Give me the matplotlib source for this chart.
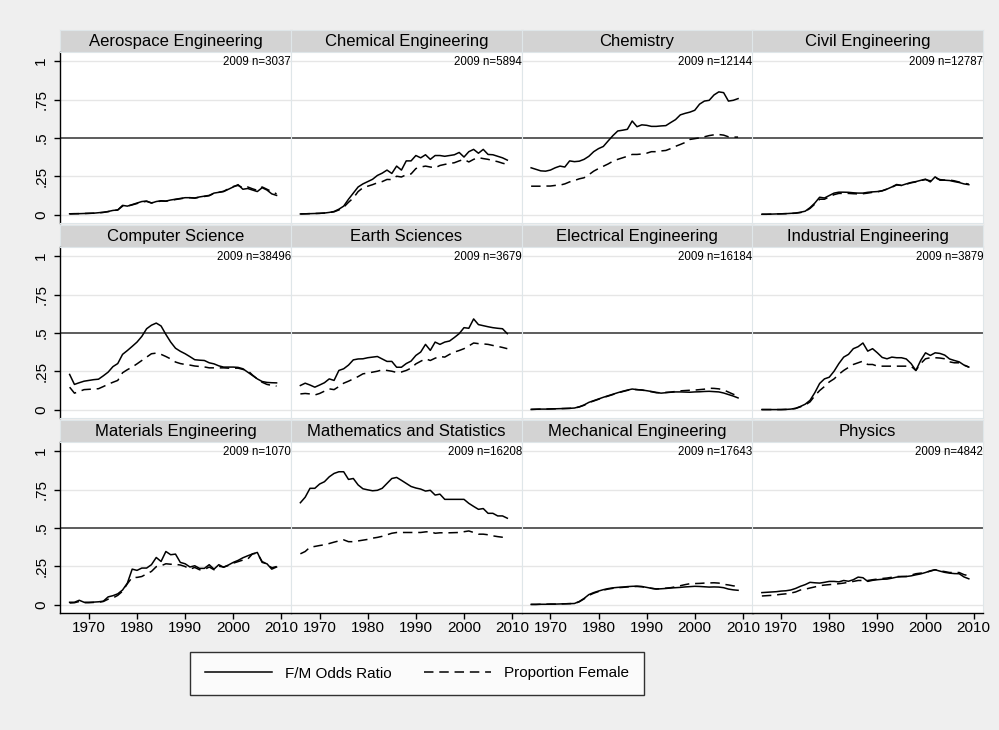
import numpy as np
import matplotlib.pyplot as plt

plt.rcParams['font.family'] = ['Liberation Sans', 'DejaVu Sans']

years = np.arange(1966, 2010)

fields = ["Aerospace Engineering", "Chemical Engineering", "Chemistry", "Civil Engineering",
          "Computer Science", "Earth Sciences", "Electrical Engineering", "Industrial Engineering",
          "Materials Engineering", "Mathematics and Statistics", "Mechanical Engineering", "Physics"]
n_2009 = [3037, 5894, 12144, 12787, 38496, 3679, 16184, 3879, 1070, 16208, 17643, 4842]

# F/M odds ratio (solid) and proportion female (dashed), 1966-2009
odds_aero = [.005, .006, .006, .007, .008, .009, .012, .015, .02, .027,
             .03, .06, .055, .065, .075, .085, .088, .075, .085, .09,
             .088, .095, .1, .105, .11, .11, .108, .115, .12, .125,
             .14, .145, .15, .165, .18, .195, .165, .17, .16, .15,
             .175, .16, .135, .125]
prop_aero = [.004, .005, .006, .007, .008, .009, .011, .014, .019, .025,
             .03, .055, .055, .063, .072, .082, .086, .076, .083, .088,
             .087, .093, .098, .103, .108, .11, .107, .113, .118, .123,
             .138, .145, .152, .168, .183, .19, .175, .18, .168, .158,
             .18, .165, .15, .135]

odds_chemeng = [.004, .005, .006, .007, .008, .01, .014, .02, .035, .055,
                .1, .14, .18, .2, .215, .23, .255, .27, .29, .268,
                .316, .29, .35, .35, .385, .37, .39, .36, .385, .385,
                .38, .385, .39, .405, .375, .41, .425, .40, .425, .392,
                .39, .38, .37, .355]
prop_chemeng = [.004, .005, .006, .007, .008, .01, .013, .018, .03, .048,
                .08, .108, .15, .175, .185, .195, .207, .215, .229, .228,
                .25, .245, .26, .265, .3, .31, .316, .31, .305, .32,
                .327, .333, .338, .35, .36, .343, .36, .371, .365, .36,
                .352, .345, .335, .327]

odds_chem = [.305, .295, .285, .283, .29, .305, .316, .31, .35, .345,
             .348, .36, .38, .41, .43, .444, .48, .515, .545, .55,
             .556, .61, .573, .585, .582, .575, .575, .578, .58, .6,
             .619, .65, .66, .668, .68, .72, .74, .745, .78, .8,
             .795, .74, .745, .756]
prop_chem = [.185, .185, .185, .186, .186, .19, .192, .2, .213, .222,
             .233, .24, .26, .283, .3, .315, .33, .348, .36, .37,
             .38, .392, .392, .395, .4, .41, .41, .415, .418, .43,
             .445, .457, .47, .49, .495, .5, .507, .515, .52, .522,
             .518, .507, .505, .505]

odds_civil = [.002, .002, .003, .004, .005, .006, .008, .01, .015, .022,
              .045, .075, .113, .108, .124, .14, .146, .146, .145, .142,
              .14, .14, .145, .148, .15, .155, .166, .18, .196, .19,
              .2, .209, .215, .223, .231, .213, .246, .224, .224, .222,
              .215, .209, .2, .195]
prop_civil = [.002, .002, .003, .004, .005, .006, .007, .009, .013, .02,
              .04, .068, .1, .1, .115, .13, .138, .138, .138, .136,
              .135, .136, .14, .145, .148, .155, .166, .178, .193, .19,
              .198, .207, .213, .222, .228, .22, .24, .228, .225, .225,
              .22, .212, .205, .198]

odds_cs = [.229, .164, .175, .185, .19, .195, .198, .22, .244, .28,
           .3, .36, .385, .412, .44, .477, .527, .55, .564, .545,
           .49, .44, .4, .38, .364, .345, .325, .322, .32, .305,
           .298, .285, .277, .277, .277, .275, .266, .244, .222, .2,
           .183, .177, .175, .174]
prop_cs = [.146, .107, .118, .13, .132, .134, .136, .15, .165, .178,
           .19, .24, .26, .277, .298, .32, .342, .364, .368, .36,
           .346, .33, .31, .3, .294, .29, .284, .281, .278, .272,
           .272, .272, .272, .27, .27, .27, .262, .255, .225, .2,
           .178, .164, .158, .153]

odds_earth = [.157, .172, .16, .146, .16, .175, .2, .19, .255, .266,
              .29, .324, .33, .331, .338, .342, .346, .33, .314, .314,
              .276, .276, .3, .316, .353, .375, .425, .386, .44, .425,
              .44, .447, .47, .495, .534, .53, .591, .554, .547, .54,
              .534, .53, .527, .495]
prop_earth = [.102, .105, .102, .095, .105, .12, .135, .13, .15, .172,
              .185, .2, .215, .233, .238, .244, .25, .259, .255, .25,
              .242, .245, .255, .27, .298, .315, .331, .32, .335, .346,
              .342, .36, .375, .385, .397, .415, .434, .43, .428, .425,
              .418, .412, .405, .397]

odds_elec = [.001, .002, .003, .003, .004, .005, .006, .007, .008, .01,
             .018, .03, .047, .058, .069, .08, .09, .1, .11, .119,
             .127, .134, .13, .128, .123, .118, .112, .107, .11, .113,
             .115, .115, .114, .113, .115, .116, .118, .119, .117, .115,
             .108, .098, .088, .076]
prop_elec = [.001, .002, .003, .003, .004, .005, .006, .007, .008, .01,
             .017, .028, .045, .056, .067, .078, .088, .098, .108, .117,
             .125, .132, .13, .127, .122, .116, .11, .11, .112, .114,
             .118, .122, .124, .126, .127, .13, .133, .139, .138, .135,
             .128, .114, .1, .088]

odds_ind = [0, 0, 0, 0, 0, .001, .003, .008, .02, .035,
            .06, .11, .17, .2, .211, .25, .3, .342, .36, .397,
            .41, .434, .381, .397, .37, .34, .331, .342, .338, .338,
            .33, .3, .255, .32, .37, .353, .37, .366, .355, .33,
            .32, .311, .29, .277]
prop_ind = [0, 0, 0, 0, 0, .001, .003, .007, .018, .03,
            .05, .09, .124, .15, .18, .2, .23, .255, .275, .294,
            .305, .316, .294, .294, .283, .283, .283, .283, .283, .283,
            .283, .283, .255, .3, .331, .338, .338, .336, .331, .311,
            .305, .305, .29, .277]

odds_mat = [.015, .015, .028, .015, .015, .016, .018, .022, .05, .058,
            .07, .095, .14, .231, .223, .238, .238, .26, .307, .281,
            .346, .325, .329, .275, .266, .245, .253, .236, .236, .26,
            .231, .26, .243, .258, .275, .288, .305, .318, .33, .34,
            .275, .266, .231, .245]
prop_mat = [.01, .012, .02, .012, .012, .014, .015, .02, .035, .043,
            .06, .087, .136, .177, .177, .183, .2, .216, .247, .253,
            .266, .263, .262, .258, .248, .231, .242, .227, .228, .245,
            .227, .25, .245, .255, .27, .28, .29, .296, .331, .335,
            .28, .266, .24, .248]

odds_math = [.664, .7, .758, .758, .786, .801, .833, .855, .866, .866,
             .816, .822, .78, .755, .748, .742, .745, .758, .79, .822,
             .829, .81, .79, .77, .76, .753, .74, .745, .714, .72,
             .686, .686, .686, .686, .686, .66, .64, .621, .626, .595,
             .595, .578, .578, .563]
prop_math = [.331, .346, .374, .379, .385, .39, .398, .407, .415, .422,
             .41, .41, .415, .42, .425, .433, .438, .445, .455, .465,
             .47, .47, .47, .47, .47, .47, .474, .476, .465, .468,
             .468, .468, .469, .47, .475, .48, .47, .459, .459, .455,
             .448, .443, .439, .437]

odds_mech = [.001, .001, .002, .002, .003, .003, .004, .005, .006, .007,
             .02, .04, .065, .078, .088, .097, .104, .109, .112, .114,
             .117, .119, .12, .118, .112, .106, .101, .103, .105, .108,
             .11, .112, .115, .117, .119, .118, .116, .114, .115, .114,
             .11, .101, .096, .093]
prop_mech = [.001, .001, .002, .002, .003, .003, .004, .005, .006, .007,
             .018, .037, .06, .074, .085, .094, .101, .106, .11, .112,
             .115, .117, .118, .116, .111, .106, .102, .104, .107, .11,
             .116, .123, .13, .136, .137, .138, .14, .141, .142, .14,
             .132, .128, .122, .119]

odds_phys = [.078, .08, .082, .084, .088, .09, .095, .105, .119, .13,
             .145, .142, .14, .145, .151, .151, .148, .157, .152, .162,
             .179, .175, .151, .158, .162, .165, .166, .172, .179, .182,
             .183, .187, .194, .2, .209, .22, .227, .218, .21, .205,
             .202, .201, .18, .168]
prop_phys = [.056, .058, .06, .063, .067, .07, .075, .082, .095, .1,
             .108, .115, .123, .127, .13, .133, .136, .14, .145, .151,
             .157, .157, .157, .162, .166, .17, .173, .178, .183, .183,
             .183, .192, .201, .205, .209, .218, .227, .22, .215, .209,
             .209, .209, .195, .188]

odds = [odds_aero, odds_chemeng, odds_chem, odds_civil, odds_cs, odds_earth,
        odds_elec, odds_ind, odds_mat, odds_math, odds_mech, odds_phys]
props = [prop_aero, prop_chemeng, prop_chem, prop_civil, prop_cs, prop_earth,
         prop_elec, prop_ind, prop_mat, prop_math, prop_mech, prop_phys]

yticks = [0, .25, .5, .75, 1]
ytick_labels = ['0', '.25', '.5', '.75', '1']
xticks = [1970, 1980, 1990, 2000, 2010]

W, H = 999, 730
fig = plt.figure(figsize=(W / 100, H / 100), dpi=100, facecolor='#efefef')


def box(x0, y0, w, h):
    # pixel box (from top-left) -> figure fraction
    return [x0 / W, 1 - (y0 + h) / H, w / W, h / H]


col_x = [60 + 230.75 * c for c in range(4)]
row_y = [30, 225, 420]
pw, strip_h, plot_h = 231, 22, 171
edge = '#dfe6e9'
dash = (0, (6.2, 3.8))

for i, name in enumerate(fields):
    r, c = divmod(i, 4)
    x0, y0 = col_x[c], row_y[r]

    st = fig.add_axes(box(x0, y0, pw, strip_h))
    st.set_facecolor('#d3d3d3')
    st.set_xticks([])
    st.set_yticks([])
    for s in st.spines.values():
        s.set_color(edge)
    st.text(0.5, 0.48, name, ha='center', va='center', fontsize=12, transform=st.transAxes)

    ax = fig.add_axes(box(x0, y0 + strip_h, pw, plot_h))
    ax.set_xlim(1964, 2012)
    ax.set_ylim(-0.055, 1.06)
    for y in [0, .25, .75, 1]:
        ax.axhline(y, color='#e6e6e6', lw=1.0, zorder=0)
    ax.axhline(0.5, color='#5c5c5c', lw=1.4, zorder=1)
    ax.plot(years, odds[i], color='black', lw=1.1, label='F/M Odds Ratio', zorder=3)
    ax.plot(years, props[i], color='black', lw=1.1, ls=dash, label='Proportion Female', zorder=3)
    ax.text(1.0, 0.995, f'2009 n={n_2009[i]}', transform=ax.get_yaxis_transform(),
            ha='right', va='center', fontsize=8.3, clip_on=False)

    for s in ax.spines.values():
        s.set_color(edge)
        s.set_linewidth(0.8)
    if c == 0:
        ax.spines['left'].set_color('black')
        ax.spines['left'].set_linewidth(1.0)
        ax.set_yticks(yticks)
        ax.set_yticklabels(ytick_labels)
        ax.tick_params(axis='y', length=4.5, width=1, pad=4, labelsize=11, labelrotation=90)
        for lab in ax.get_yticklabels():
            lab.set_va('center')
    else:
        ax.set_yticks([])
    if r == 2:
        ax.spines['bottom'].set_color('black')
        ax.spines['bottom'].set_linewidth(1.0)
        ax.set_xticks(xticks)
        ax.tick_params(axis='x', length=4.5, width=1, pad=1.5, labelsize=11)
    else:
        ax.set_xticks([])

handles, labels = ax.get_legend_handles_labels()
leg = fig.legend(handles, labels, loc='center', bbox_to_anchor=(417 / W, 1 - 673.5 / H),
                 ncol=2, frameon=True, fancybox=False, edgecolor='black', facecolor='white',
                 fontsize=11, handlelength=4.4, handletextpad=0.85, columnspacing=2.1,
                 borderpad=0.95, borderaxespad=0)
leg.get_frame().set_linewidth(1.0)

fig.savefig('out.png', dpi=100, facecolor=fig.get_facecolor())
